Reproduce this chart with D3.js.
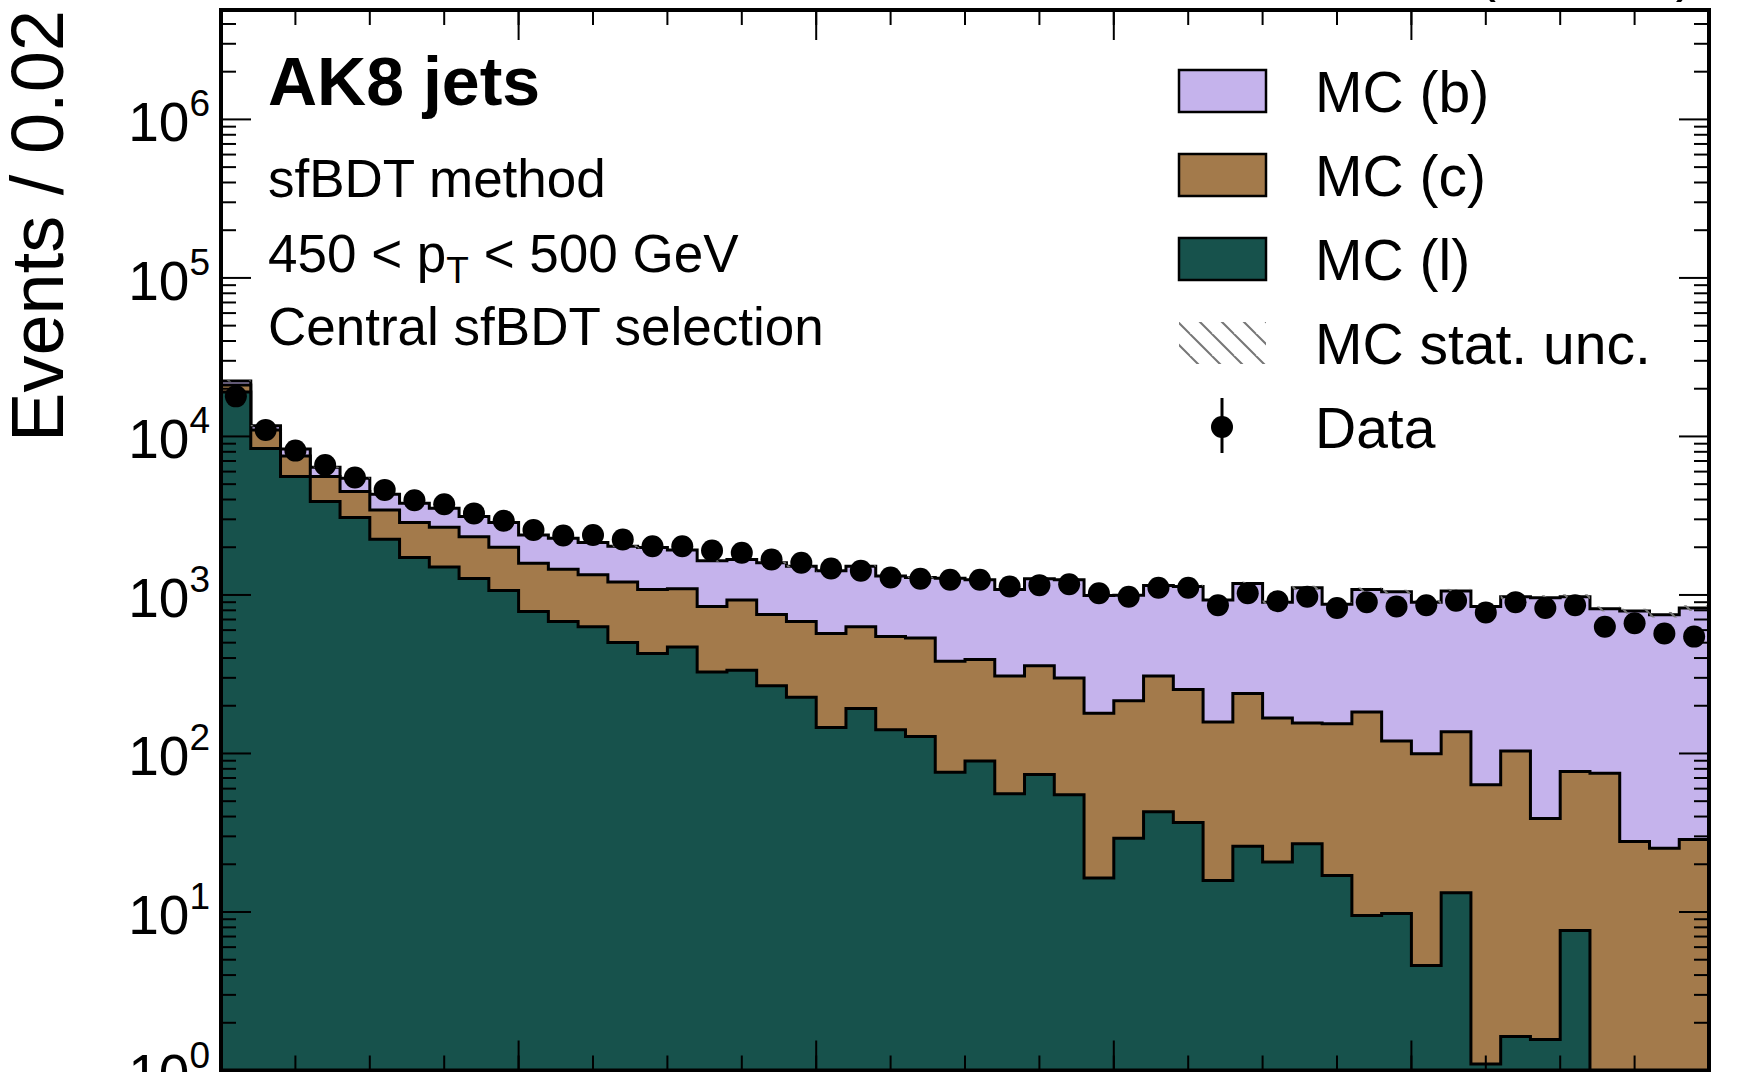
<!DOCTYPE html>
<html>
<head>
<meta charset="utf-8">
<script src="https://cdn.jsdelivr.net/npm/d3@7"></script>
<style>
  body { margin: 0; background: #fff; }
  text { font-family: "Liberation Sans", Arial, sans-serif; fill: #000; }
</style>
</head>
<body>
<div id="chart-area"></div>
<script>
// sfBDT score, 50 bins of 0.02 between 0 and 1
var binWidth = 0.02;
var nBins = 50;

// MC (l) light-flavour jets
var mcL = [19100, 8400, 5580, 3880, 3080, 2250, 1720, 1500, 1270, 1065,
           785, 680, 631, 502, 427, 470, 327, 335, 267, 226,
           146, 192, 141, 128, 76, 89.5, 55.7, 73.6, 55, 16.4,
           29.2, 42.9, 36.7, 15.8, 26, 20.7, 26.9, 17, 9.5, 9.8,
           4.6, 13.2, 1.1, 1.64, 1.57, 7.65, 0, 0, 0, 0];
// MC (c)
var mcC = [2000, 2600, 1950, 1700, 1410, 1190, 1140, 1170, 1060, 935,
           800, 770, 709, 706, 654, 626, 518, 596, 485, 455,
           425, 438, 405, 408, 306, 302, 252, 284, 244, 163,
           186, 265, 217, 142, 213, 147, 129, 137, 173, 110,
           95, 124, 62.3, 102, 37.3, 69.4, 75, 27.8, 25.2, 28.7];
// MC (b)
var mcB = [1300, 700, 810, 810, 960, 880, 930, 850, 790, 860,
           805, 830, 800, 822, 909, 824, 796, 741, 845, 836,
           851, 887, 769, 754, 891, 856, 773, 906, 949, 814,
           779, 838, 878, 773, 944, 733, 954, 719, 898, 927,
           801, 923, 782, 871, 923, 898, 742, 763, 726, 799];
// Data
var dataN = [17900, 11000, 8140, 6610, 5500, 4600, 3960, 3730, 3270, 2940,
             2570, 2370, 2390, 2240, 2030, 2030, 1905, 1845, 1672, 1597,
             1469, 1422, 1290, 1264, 1248, 1248, 1132, 1153, 1169, 1026,
             975, 1110, 1110, 861, 1026, 912, 975, 828, 901, 845,
             861, 919, 776, 901, 828, 861, 630, 663, 571, 546];
var mcUnc = [0.01, 0.01, 0.01, 0.01, 0.01, 0.01, 0.01, 0.01, 0.01, 0.01,
             0.01, 0.01, 0.012, 0.012, 0.012, 0.012, 0.012, 0.012, 0.015, 0.015,
             0.015, 0.015, 0.015, 0.015, 0.02, 0.02, 0.02, 0.02, 0.02, 0.02,
             0.025, 0.025, 0.025, 0.025, 0.025, 0.025, 0.03, 0.03, 0.03, 0.03,
             0.03, 0.03, 0.035, 0.035, 0.035, 0.035, 0.035, 0.035, 0.04, 0.04];

var legendLabels = ["MC (b)", "MC (c)", "MC (l)", "MC stat. unc.", "Data"];
var colB = "#c5b3ec", colC = "#a37a4b", colL = "#17524c";

var W = 1752, H = 1072;
var margin = { left: 221, right: 43, top: 10, bottom: 1.5 };
var width = W - margin.left - margin.right,
    height = H - margin.top - margin.bottom;

var svg = d3.select("#chart-area")
            .append("svg")
            .attr("width", W)
            .attr("height", H);

var defs = svg.append("defs");
defs.append("clipPath").attr("id", "plotclip")
    .append("rect").attr("width", width).attr("height", height);

var hatch = defs.append("pattern")
    .attr("id", "hatch")
    .attr("patternUnits", "userSpaceOnUse")
    .attr("width", 22).attr("height", 22);
hatch.append("path")
    .attr("d", "M-11,0 L11,22 M0,-11 L22,11 M11,0 L33,22 M0,11 L11,22")
    .attr("stroke", "#777").attr("stroke-width", 2).attr("fill", "none");

var g = svg.append("g")
           .attr("transform", "translate(" + margin.left + "," + margin.top + ")");

var x = d3.scaleLinear().domain([0, 1]).range([0, width]);
var y = d3.scaleLog().domain([1, 4.9e6]).range([height, 0]).clamp(true);

// stacked cumulative sums
var bins = d3.range(nBins).map(function(i) {
    var l = mcL[i], c = l + mcC[i], t = c + mcB[i];
    return { lo: i * binWidth, hi: (i + 1) * binWidth, l: l, c: c, t: t, n: dataN[i], u: mcUnc[i] };
});

function stepArea(key) {
    var pts = bins.map(function(d) { return { x: d.lo, v: d[key] }; });
    pts.push({ x: 1, v: bins[nBins - 1][key] });
    return d3.area()
        .curve(d3.curveStepAfter)
        .x(function(d) { return x(d.x); })
        .y0(height + 20)
        .y1(function(d) { return y(Math.max(d.v, 0.1)); })(pts);
}

var plot = g.append("g").attr("clip-path", "url(#plotclip)");

[["t", colB], ["c", colC], ["l", colL]].forEach(function(s) {
    plot.append("path")
        .attr("d", stepArea(s[0]))
        .attr("fill", s[1])
        .attr("stroke", "#000")
        .attr("stroke-width", 3)
        .attr("stroke-linejoin", "miter");
});

// MC stat. unc. band
plot.selectAll("rect.unc")
    .data(bins)
    .enter().append("rect")
    .attr("class", "unc")
    .attr("x", function(d) { return x(d.lo); })
    .attr("width", x(binWidth) - x(0))
    .attr("y", function(d) { return y(d.t * (1 + d.u)); })
    .attr("height", function(d) { return y(d.t * (1 - d.u)) - y(d.t * (1 + d.u)); })
    .attr("fill", "url(#hatch)");

// data points
plot.selectAll("circle.data")
    .data(bins)
    .enter().append("circle")
    .attr("class", "data")
    .attr("cx", function(d) { return x((d.lo + d.hi) / 2); })
    .attr("cy", function(d) { return y(d.n); })
    .attr("r", 11)
    .attr("fill", "#000");

// ticks, inward on all four sides
var majorX = d3.range(0, 1.0001, 0.2), minorX = d3.range(0, 1.0001, 0.05);
var majorY = d3.range(0, 7).map(function(k) { return Math.pow(10, k); });
var minorY = [];
majorY.forEach(function(p) { d3.range(2, 10).forEach(function(m) { if (p * m < 4.9e6) minorY.push(p * m); }); });

var ticks = g.append("g").attr("stroke", "#000").attr("stroke-width", 2);
function hTicks(vals, len) {
    vals.forEach(function(v) {
        ticks.append("line").attr("x1", x(v)).attr("x2", x(v)).attr("y1", 0).attr("y2", len);
        ticks.append("line").attr("x1", x(v)).attr("x2", x(v)).attr("y1", height).attr("y2", height - len);
    });
}
function vTicks(vals, len) {
    vals.forEach(function(v) {
        ticks.append("line").attr("y1", y(v)).attr("y2", y(v)).attr("x1", 0).attr("x2", len);
        ticks.append("line").attr("y1", y(v)).attr("y2", y(v)).attr("x1", width).attr("x2", width - len);
    });
}
hTicks(minorX, 15); hTicks(majorX, 30);
vTicks(minorY, 15); vTicks(majorY, 30);

// y tick labels 10^k
majorY.forEach(function(v, k) {
    var t = g.append("text")
        .attr("x", -11)
        .attr("y", y(v) + 22)
        .attr("text-anchor", "end")
        .attr("font-size", 55)
        .text("10");
    t.append("tspan").attr("font-size", 37).attr("dy", -25).text(k);
});

// frame
g.append("rect")
    .attr("width", width).attr("height", height)
    .attr("fill", "none").attr("stroke", "#000").attr("stroke-width", 4);

// y axis label
g.append("text")
    .attr("transform", "translate(" + (-158) + ",0) rotate(-90)")
    .attr("text-anchor", "end")
    .attr("font-size", 74)
    .text("Events / 0.02");

// title (sits above the picture, only its descenders show)
g.append("text")
    .attr("x", width - 14).attr("y", -20)
    .attr("text-anchor", "end")
    .attr("font-size", 58)
    .text("(13 TeV)");

// annotation texts
g.append("text").attr("x", 47).attr("y", 95)
    .attr("font-size", 68).attr("font-weight", "bold").text("AK8 jets");
g.append("text").attr("x", 47).attr("y", 187)
    .attr("font-size", 53).text("sfBDT method");
var pt = g.append("text").attr("x", 47).attr("y", 262).attr("font-size", 53);
pt.append("tspan").text("450 < p");
pt.append("tspan").attr("font-size", 37).attr("dy", 11).text("T");
pt.append("tspan").attr("dy", -11).text(" < 500 GeV");
g.append("text").attr("x", 47).attr("y", 335)
    .attr("font-size", 53).text("Central sfBDT selection");

// legend
var leg = g.append("g").attr("transform", "translate(958,60)");
var rowH = 84;
var fills = [colB, colC, colL];
legendLabels.forEach(function(lab, i) {
    var ry = i * rowH;
    if (i < 3) {
        leg.append("rect").attr("x", 0).attr("y", ry).attr("width", 87).attr("height", 42)
            .attr("fill", fills[i]).attr("stroke", "#000").attr("stroke-width", 2.5);
    } else if (i === 3) {
        leg.append("rect").attr("x", 0).attr("y", ry).attr("width", 87).attr("height", 42)
            .attr("fill", "url(#hatch)");
    } else {
        leg.append("line").attr("x1", 43).attr("x2", 43).attr("y1", ry - 8).attr("y2", ry + 47)
            .attr("stroke", "#000").attr("stroke-width", 3);
        leg.append("circle").attr("cx", 43).attr("cy", ry + 21).attr("r", 11).attr("fill", "#000");
    }
    leg.append("text").attr("x", 136).attr("y", ry + 42)
        .attr("font-size", 57).text(lab);
});
</script>
</body>
</html>
